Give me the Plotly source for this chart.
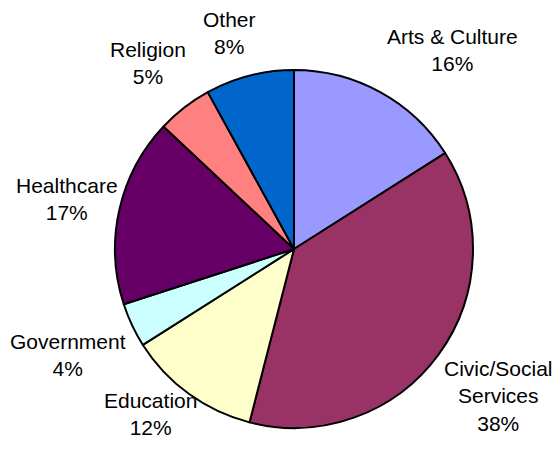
import plotly.graph_objects as go

categories = ["Arts & Culture", "Civic/Social Services", "Education", "Government",
              "Healthcare", "Religion", "Other"]
label_text = ["Arts & Culture", "Civic/Social<br>Services", "Education", "Government",
              "Healthcare", "Religion", "Other"]
values = [16, 38, 12, 4, 17, 5, 8]
colors = ["#9999FF", "#993366", "#FFFFCC", "#CCFFFF", "#660066", "#FF8080", "#0066CC"]

W, H = 558, 466
cx, cy, r = 294, 249, 179

# label anchor positions (pixels, centre of text block)
label_pos = [(452, 50), (498, 396), (150, 414), (68, 355), (67, 199), (148, 63), (229, 33)]

fig = go.Figure(go.Pie(
    labels=categories,
    values=values,
    sort=False,
    direction="clockwise",
    rotation=0,
    marker=dict(colors=colors, line=dict(color="black", width=2)),
    textinfo="none",
    hoverinfo="label+percent",
    showlegend=False,
    domain=dict(x=[(cx - r) / W, (cx + r) / W],
                y=[(H - cy - r) / H, (H - cy + r) / H]),
))

for txt, v, (px, py) in zip(label_text, values, label_pos):
    fig.add_annotation(
        x=px / W, y=1 - py / H, xref="paper", yref="paper",
        text=f"{txt}<br>{v}%", showarrow=False,
        xanchor="center", yanchor="middle", align="center",
        font=dict(family="Liberation Sans, Arial, sans-serif", size=21, color="black"),
    )

fig.update_layout(
    width=W, height=H,
    margin=dict(l=0, r=0, t=0, b=0),
    paper_bgcolor="white", plot_bgcolor="white",
)

fig.write_html("out.html")
